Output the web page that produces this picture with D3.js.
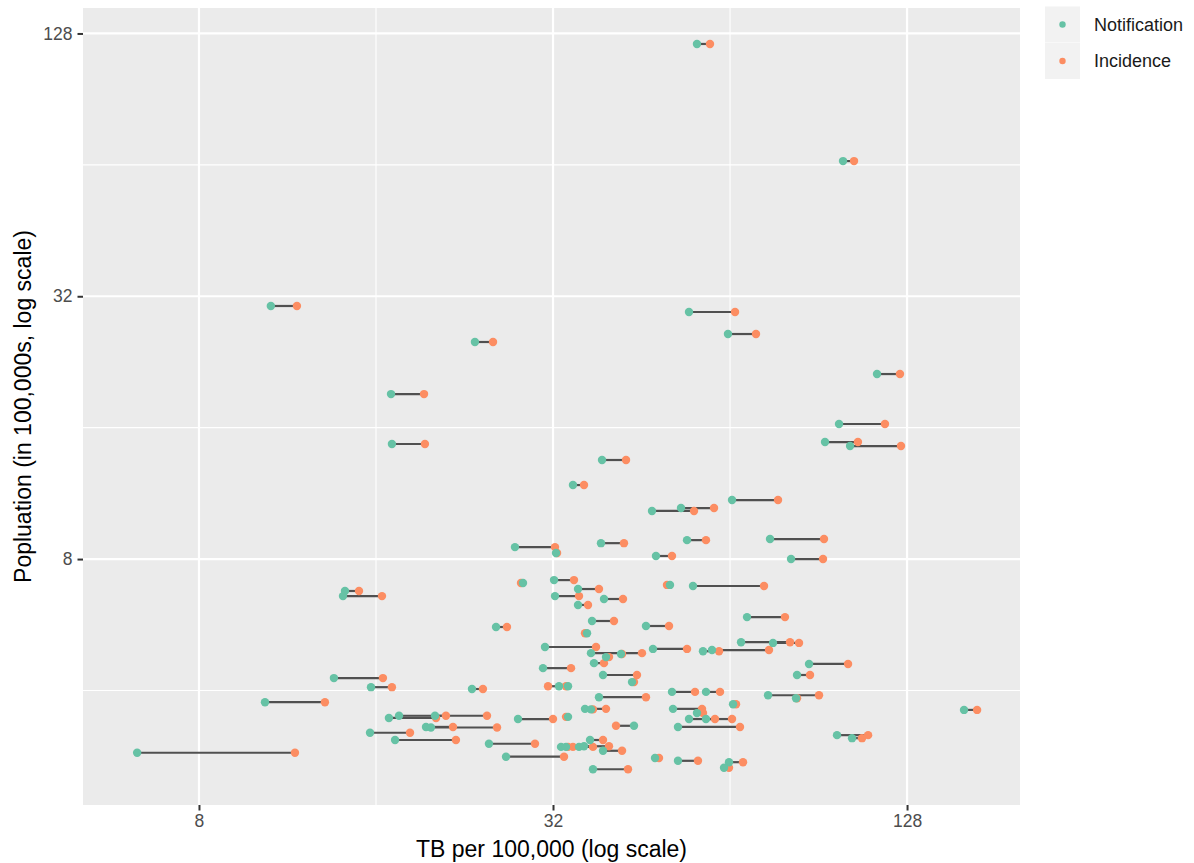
<!DOCTYPE html>
<html><head><meta charset="utf-8">
<script src="https://cdn.jsdelivr.net/npm/d3@7"></script>
<style>
body{margin:0;background:#fff}
svg{display:block}
text{font-family:"Liberation Sans",Arial,Helvetica,sans-serif}
</style>
</head><body>
<svg id="chart" width="1194" height="863"></svg>
<script>
const seriesNames = ["Notification", "Incidence"];
const seriesColors = ["#66c2a5", "#fc8d62"];

// TB per 100,000 (notification rate)
const notification = [
 56.23, 99.62, 10.60, 54.50, 63.49, 23.57, 113.8, 16.97, 98.07, 17.03,
 92.83, 102.4, 38.77, 34.60, 64.50, 52.82, 47.15, 74.85, 54.08, 38.61,
 27.57, 32.38, 47.89, 81.27, 28.45, 32.13, 50.59, 55.36, 35.29, 32.25,
 39.07, 35.29, 68.40, 37.28, 46.05, 25.60, 36.56, 66.82, 75.73, 31.01,
 47.33, 57.57, 59.64, 37.13, 41.76, 39.38, 37.57, 30.77, 38.92, 43.60,
 32.76, 33.94, 50.99, 58.25, 38.31, 74.27, 82.87, 64.76, 51.19, 36.27,
 37.13, 56.23, 160.0, 33.94, 27.90, 54.50, 58.25, 43.94, 52.20, 19.46,
 19.84, 24.90, 33.02, 33.67, 35.43, 36.13, 36.99, 38.92, 26.62, 47.71,
 52.20, 63.74, 62.51, 37.42, 14.17, 14.06, 13.57, 15.69, 23.30, 10.36,
 16.83, 17.51, 20.16, 15.63, 17.24, 6.28, 97.30, 103.2, 83.20, 87.20
];
// TB per 100,000 (estimated incidence)
const incidence = [
 59.17, 104.0, 11.74, 65.27, 70.85, 25.30, 124.5, 19.31, 117.4, 19.38,
 105.6, 125.0, 42.59, 36.13, 77.23, 60.11, 55.58, 92.47, 58.25, 42.25,
 32.25, 32.51, 50.99, 92.11, 28.23, 34.74, 50.00, 73.11, 38.31, 35.43,
 42.09, 36.70, 79.37, 40.63, 50.40, 26.72, 36.27, 80.95, 83.85, 37.87,
 54.08, 61.30, 74.55, 45.34, 41.93, 39.84, 39.07, 34.34, 44.46, 43.94,
 31.38, 33.67, 55.80, 61.54, 46.05, 90.68, 83.20, 65.52, 57.35, 39.38,
 37.42, 57.57, 168.4, 33.67, 32.00, 60.34, 64.50, 40.95, 66.55, 21.63,
 25.70, 29.82, 34.60, 33.94, 37.42, 39.84, 38.92, 41.93, 33.41, 48.46,
 56.45, 67.34, 63.74, 42.92, 14.97, 16.38, 16.44, 17.03, 24.32, 13.10,
 20.24, 21.04, 24.71, 18.28, 21.88, 11.65, 109.9, 107.3, 87.54, 101.6
];
// Population in 100,000s
const population = [
 121.1, 65.29, 30.40, 29.45, 26.22, 25.14, 21.23, 19.10, 16.31, 14.68,
 14.83, 14.52, 13.49, 11.82, 10.92, 10.47, 10.31, 8.89, 8.84, 8.70,
 8.52, 8.26, 8.13, 8.00, 7.05, 7.16, 6.98, 6.94, 6.83, 6.58,
 6.48, 6.28, 5.89, 5.77, 5.62, 5.59, 5.41, 5.16, 5.14, 5.03,
 4.98, 4.92, 4.95, 4.87, 4.85, 4.77, 4.62, 4.50, 4.34, 4.18,
 4.09, 4.09, 3.97, 3.97, 3.86, 3.90, 3.84, 3.72, 3.63, 3.63,
 3.62, 3.55, 3.61, 3.48, 3.44, 3.44, 3.44, 3.32, 3.30, 3.30,
 3.29, 3.02, 2.97, 2.97, 2.97, 2.98, 3.08, 2.91, 2.82, 2.80,
 2.76, 2.74, 2.66, 2.64, 6.76, 6.58, 4.27, 4.07, 4.03, 3.76,
 3.46, 3.50, 3.50, 3.20, 3.08, 2.88, 3.16, 3.11, 4.34, 4.60
];

const xTickValues = [8, 32, 128];
const yTickValues = [8, 32, 128];
const xMinorValues = [16, 64];
const yMinorValues = [4, 16, 64];
const xDomain = [5.08, 199.2];
const yDomain = [2.186, 146.4];

const xTitle = "TB per 100,000 (log scale)";
const yTitle = "Popluation (in 100,000s, log scale)";

const W = 1194, H = 863;
const panel = {left: 83, right: 1020, top: 8, bottom: 805};

const svg = d3.select("#chart");
const x = d3.scaleLog().base(2).domain(xDomain).range([panel.left, panel.right]);
const y = d3.scaleLog().base(2).domain(yDomain).range([panel.bottom, panel.top]);

// panel background
svg.append("rect").attr("x", panel.left).attr("y", panel.top)
  .attr("width", panel.right - panel.left).attr("height", panel.bottom - panel.top)
  .attr("fill", "#ebebeb");

const grid = svg.append("g");
// minor grid
grid.selectAll(".vminor").data(xMinorValues).join("line")
  .attr("x1", d => x(d)).attr("x2", d => x(d)).attr("y1", panel.top).attr("y2", panel.bottom)
  .attr("stroke", "#fff").attr("stroke-width", 1.1);
grid.selectAll(".hminor").data(yMinorValues).join("line")
  .attr("y1", d => y(d)).attr("y2", d => y(d)).attr("x1", panel.left).attr("x2", panel.right)
  .attr("stroke", "#fff").attr("stroke-width", 1.1);
// major grid
grid.selectAll(".vmajor").data(xTickValues).join("line")
  .attr("x1", d => x(d)).attr("x2", d => x(d)).attr("y1", panel.top).attr("y2", panel.bottom)
  .attr("stroke", "#fff").attr("stroke-width", 2.2);
grid.selectAll(".hmajor").data(yTickValues).join("line")
  .attr("y1", d => y(d)).attr("y2", d => y(d)).attr("x1", panel.left).attr("x2", panel.right)
  .attr("stroke", "#fff").attr("stroke-width", 2.2);

const rows = population.map((p, i) => ({pop: p, notif: notification[i], inc: incidence[i]}));

// segments
svg.append("g").selectAll("line").data(rows).join("line")
  .attr("x1", d => x(d.notif)).attr("x2", d => x(d.inc))
  .attr("y1", d => y(d.pop)).attr("y2", d => y(d.pop))
  .attr("stroke", "#505050").attr("stroke-width", 2.2);

// points: incidence first, notification on top
svg.append("g").selectAll("circle").data(rows).join("circle")
  .attr("cx", d => x(d.inc)).attr("cy", d => y(d.pop)).attr("r", 4.2)
  .attr("fill", seriesColors[1]);
svg.append("g").selectAll("circle").data(rows).join("circle")
  .attr("cx", d => x(d.notif)).attr("cy", d => y(d.pop)).attr("r", 4.2)
  .attr("fill", seriesColors[0]);

// axes
const fmt = d3.format("d");
const xAxis = svg.append("g").attr("transform", `translate(0,${panel.bottom})`)
  .call(d3.axisBottom(x).tickValues(xTickValues).tickFormat(fmt).tickSize(5.5).tickPadding(4));
const yAxis = svg.append("g").attr("transform", `translate(${panel.left},0)`)
  .call(d3.axisLeft(y).tickValues(yTickValues).tickFormat(fmt).tickSize(5.5).tickPadding(5));
[xAxis, yAxis].forEach(a => {
  a.select(".domain").remove();
  a.selectAll(".tick line").attr("stroke", "#333").attr("stroke-width", 2);
  a.selectAll(".tick text").attr("fill", "#4d4d4d")
    .style("font-size", "17.5px").style("font-family", '"Liberation Sans",Arial,sans-serif');
});

// axis titles
svg.append("text").attr("x", (panel.left + panel.right) / 2).attr("y", 857)
  .attr("text-anchor", "middle").style("font-size", "23px").attr("fill", "#000").text(xTitle);
svg.append("text").attr("transform", `translate(31,${(panel.top + panel.bottom) / 2}) rotate(-90)`)
  .attr("text-anchor", "middle").style("font-size", "23px").attr("fill", "#000").text(yTitle);

// legend
const legend = svg.append("g").attr("transform", "translate(1045,6.5)");
seriesNames.forEach((name, i) => {
  const g = legend.append("g").attr("transform", `translate(0,${i * 36.5})`);
  g.append("rect").attr("width", 35).attr("height", 36).attr("fill", "#f2f2f2");
  g.append("circle").attr("cx", 17.5).attr("cy", 18).attr("r", 3.2).attr("fill", seriesColors[i]);
  g.append("text").attr("x", 49).attr("y", 18).attr("dy", "0.35em")
    .style("font-size", "18px").attr("fill", "#1a1a1a").text(name);
});
</script>
</body></html>
